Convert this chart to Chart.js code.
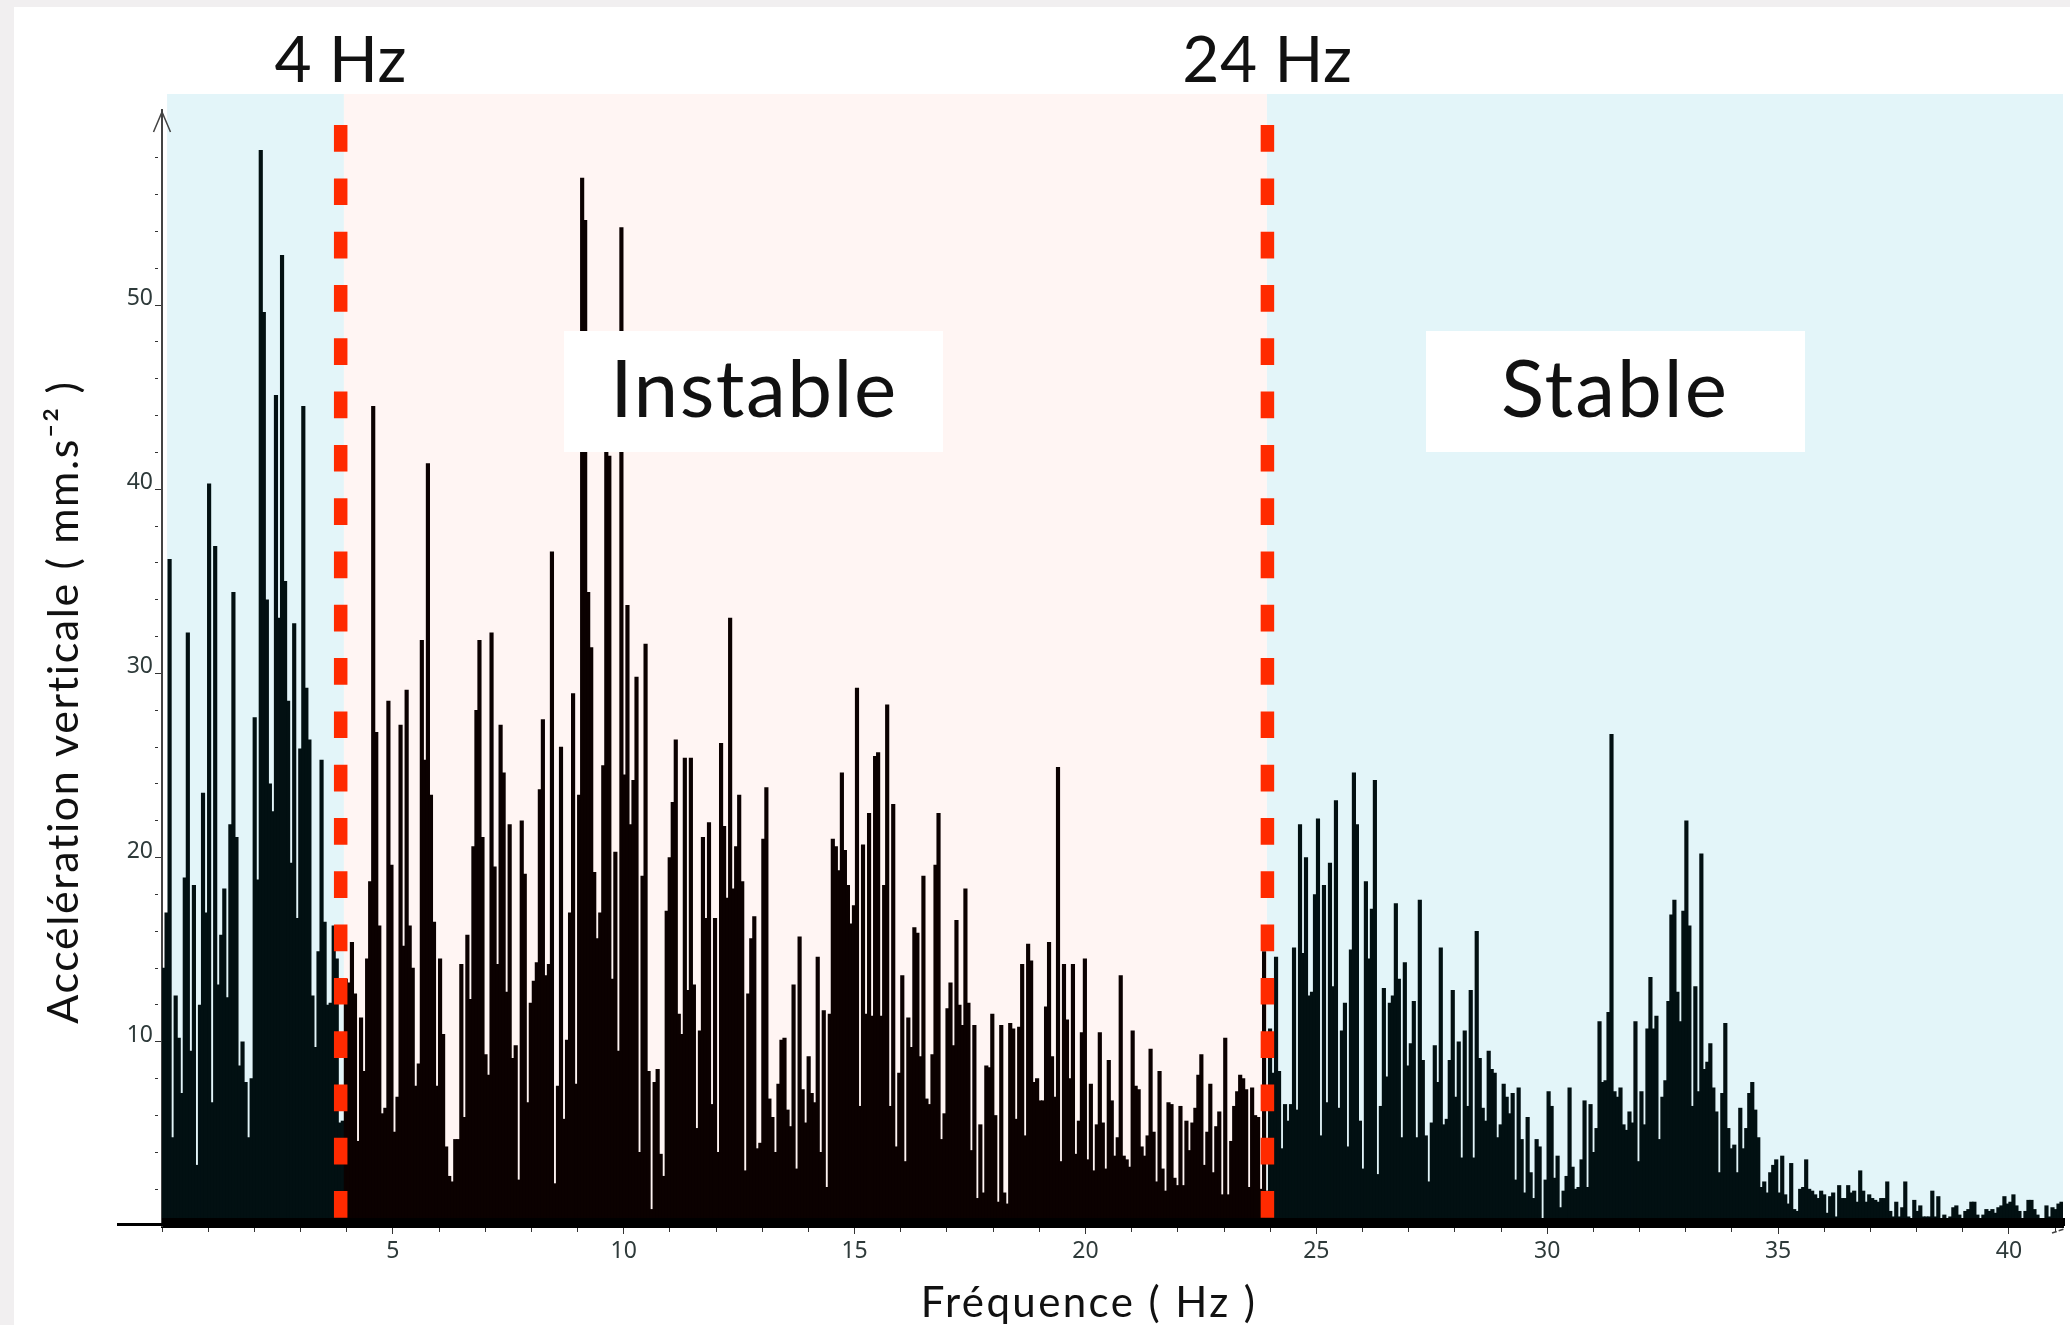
<!DOCTYPE html>
<html lang="fr">
<head>
<meta charset="utf-8">
<title>Fréquence</title>
<style>
    html, body { margin: 0; padding: 0; background: #f1eff0; }
    #sheet { position: absolute; left: 14px; top: 7px; width: 2056px; height: 1318px; background: #fff; }
    #chart { position: absolute; left: 0; top: 0; }
</style>
<script src="https://cdn.jsdelivr.net/npm/chart.js@4"></script>
</head>
<body>
<div id="sheet"></div>
<canvas id="chart" width="2070" height="1325"></canvas>
<script>
// Amplitudes, one small list per stretch of the x axis
const amp0to6 = [14, 17, 36.2, 4.8, 12.5, 10.2, 7.2, 18.9, 32.2, 9.5, 18.5, 3.3, 12, 23.5, 17, 40.3, 6.7, 36.9, 13.1, 15.8, 18.3, 12.4, 21.8, 34.4, 21.1, 8.7, 10, 7.8, 4.8, 8, 27.6, 18.8, 58.4, 49.6, 34, 24, 22.5, 45.1, 33, 52.7, 35, 28.5, 19.7, 32.7, 16.7, 25.9, 44.5, 29.2, 26.4, 12.5, 9.7, 14.9, 25.3, 16.5, 12, 12.1, 16.3, 14.5, 5.6, 5.7, 13.4, 13.2, 15.4, 12.6, 4.6, 11.3, 8.4, 14.5, 18.7, 44.5, 26.8, 16.3, 6.1, 6.4, 28.5, 19.6, 5.1, 7, 27.2, 15.2, 29.1, 16.3, 14, 7.6, 8.8, 31.8, 25.3, 41.4, 23.4, 16.5, 7.6, 14.5, 10.4, 4.3, 2.7, 2.4, 4.7, 4.7];
const amp6to17 = [14.2, 5.9, 15.8, 12.3, 20.6, 28, 31.8, 21.1, 9.3, 8.2, 32.2, 19.5, 14.2, 27.2, 24.6, 12.7, 21.8, 9.1, 9.8, 2.5, 22, 19.1, 6.7, 12.1, 13.3, 14.3, 23.7, 27.5, 13.6, 14.2, 36.6, 2.3, 7.6, 26, 5.8, 10.1, 17, 28.9, 7.7, 23.4, 56.9, 54.6, 34.4, 31.4, 19.2, 15.6, 17, 25, 44, 41.8, 13.4, 20.3, 9.5, 54.2, 24.5, 33.7, 21.8, 24.2, 29.8, 4, 19, 31.6, 8.4, 0.9, 7.8, 8.5, 3.9, 2.7, 17.1, 20, 23, 26.4, 11.5, 10.4, 25.4, 12.8, 25.4, 13.1, 5.3, 10.6, 21.1, 16.7, 21.9, 6.6, 16.7, 4, 26.2, 21.7, 17.8, 33, 18.3, 20.6, 23.4, 18.7, 3, 12.6, 15.6, 16.8, 4.2, 4.5, 21, 23.8, 6.9, 5.9, 4, 7.7, 10.1, 10.2, 6.3, 5.4, 13.1, 3.1, 15.7, 7.4, 5.6, 9.2, 7.2, 6.7, 14.6, 4, 11.7, 2.1, 11.5, 21, 20.6, 19.3, 24.6, 20.4, 18.5, 16.4, 17.4, 29.2, 6.5, 20.7, 11.5, 22.4, 11.4, 25.5, 25.7, 11.4, 18.5, 28.3, 6.5, 22.9, 4.3, 8.3, 13.6, 3.5, 11.3, 9.7, 16.2, 15.9, 9.2, 19, 6.9, 6.6, 9.3, 19.6, 22.4];
const amp17to24 = [4.7, 6.1, 11.8, 13.2, 9.8, 16.6, 12, 10.9, 18.3, 12.1, 4.1, 10.9, 1.5, 5.5, 1.8, 8.7, 8.6, 11.5, 6, 1.3, 10.9, 1.8, 1.2, 11, 10.7, 5.8, 10.8, 14.2, 4.9, 15.3, 14.4, 7.8, 8, 6.8, 6.8, 11.9, 15.4, 9.2, 7, 24.9, 3.5, 14.2, 11.2, 8, 14.2, 3.9, 5.7, 10.5, 14.5, 3.6, 7.7, 3, 5.5, 10.5, 5.6, 3.1, 9, 6.8, 3.8, 4.8, 13.6, 3.8, 3.6, 3.2, 10.6, 7.6, 7.4, 4.3, 3.8, 4.9, 9.6, 5.1, 2.4, 8.4, 3.1, 1.9, 6.7, 6.6, 2.6, 2.2, 6.5, 2.2, 5.7, 4.1, 5.6, 6.4, 8.2, 9.3, 3.3, 5.1, 7.7, 2.9, 5.4, 6.2, 1.7, 10.2, 1.7, 4.6, 6.5, 7.3, 8.2, 8, 7.4, 2.1, 7.5, 6, 5.9, 2, 14.9];
const amp24to36 = [1.9, 10.7, 8.3, 14.6, 8.4, 4.2, 6.6, 5.7, 6.6, 15.1, 6.3, 21.8, 14.8, 20, 12.5, 12.7, 18, 22.1, 4.9, 18.5, 6.7, 19.7, 13, 23.1, 6.4, 10.6, 12.1, 4.3, 15, 24.6, 21.8, 5.7, 3.1, 18.7, 14.5, 17.2, 24.2, 2.8, 6.5, 12.9, 8.1, 12.1, 12.5, 17.5, 13.4, 4.8, 14.3, 8.7, 9.9, 12.2, 4.8, 17.7, 9, 4.9, 2.4, 5.6, 9.8, 7.8, 15.1, 5.5, 5.8, 9, 12.8, 7, 10, 3.7, 10.6, 6.5, 12.8, 3.7, 16, 9.1, 6.4, 5.7, 9.5, 8.5, 8.3, 4.8, 5.5, 7.7, 7, 6.1, 7.2, 2.5, 7.5, 4.7, 1.8, 5.9, 2.9, 1.5, 4.7, 4.3, 0.4, 2.5, 7.3, 6.5, 2.6, 3.8, 1, 1.9, 2.7, 7.5, 3.2, 2, 2.1, 3.6, 6.8, 2.1, 6.6, 4, 5.3, 11.1, 7.8, 7.9, 11.6, 26.7, 7.3, 7, 7.5, 5.5, 5.2, 6.2, 5.6, 11.1, 3.5, 7.3, 5.5, 10.7, 13.5, 10.7, 11.4, 4.7, 7, 7.9, 12.2, 16.9, 17.7, 12.7, 11.1, 17.1, 22, 16.3, 6.5, 13, 7.3, 20.2, 8.5, 8.9, 9.9, 7.5, 6.2, 2.9, 7.2, 11, 5.3, 4.2, 4.4, 2.9, 6.4, 4.2, 5.3, 7.2, 7.8, 6.3, 4.8, 2.1, 2.4, 1.8, 2.9, 3.3, 3.6, 1.8, 3.8, 1.7, 1.2, 3.4, 0.9, 0.8, 2, 2.1, 3.6, 2, 1.9, 1.7, 1.5];
const amp36to41 = [1.9, 1.7, 0.7, 1.6, 1.8, 0.5, 2.2, 1.5, 1.5, 2.2, 1.8, 1.9, 1.3, 3, 1.9, 1.3, 1.7, 1.5, 1.4, 1.3, 1.5, 1.5, 2.4, 0.8, 0.5, 1.3, 0.5, 1, 2.4, 0.5, 0.3, 1.4, 0.8, 1.1, 0.5, 0.5, 0.5, 1.9, 0.5, 1.6, 0.4, 0.6, 0.3, 0.5, 1, 1.1, 0.6, 0.3, 0.8, 0.9, 1.3, 1.3, 0.6, 0.3, 0.6, 0.9, 0.8, 0.9, 0.7, 1, 1.1, 1.6, 1.2, 1.3, 1.7, 1.1, 0.8, 0.3, 0.8, 1.4, 1.4, 0.9, 0.6, 0.3, 0.3, 1.1, 0.5, 1, 0.9, 1.2, 1.3];

const stretches = [amp0to6, amp6to17, amp17to24, amp24to36, amp36to41];
const stretchEdgesHz = [0, 6.45, 16.85, 23.9, 35.9, 41.17];

const limitsHz = [3.87, 23.94];     // red dashed lines
const limitLabels = ['4 Hz', '24 Hz'];
const zoneEdgesHz = [0.11, 3.94, 23.93, 41.17];
const zoneColors = ['#e3f5f9', '#fff5f3', '#e3f5f9'];
const xTickLabels = [5, 10, 15, 20, 25, 30, 35, 40];
const yTickLabels = [10, 20, 30, 40, 50];

const xTitle = 'Fréquence ( Hz )';
const yTitle = 'Accélération verticale ( mm.s⁻² )';

// Spread each stretch's bins evenly between its two edges
function buildSpectrum() {
    const points = [];
    stretches.forEach((values, s) => {
        const start = stretchEdgesHz[s];
        const step = (stretchEdgesHz[s + 1] - start) / values.length;
        values.forEach((v, i) => points.push({ x: start + (i + 0.5) * step, y: v }));
    });
    return points;
}

function limitLine(hz) {
    return {
        type: 'line',
        data: [{ x: hz, y: 59.77 }, { x: hz, y: 0.43 }],
        borderColor: '#ff2a00',
        borderWidth: 13.5,
        borderDash: [26.7, 26.6],
        pointRadius: 0,
        order: 1
    };
}

// Colour zones behind the bars
const zonesPlugin = {
    id: 'zones',
    beforeDatasetsDraw(chart) {
        const ctx = chart.ctx;
        const x = chart.scales.x;
        ctx.save();
        zoneColors.forEach((color, i) => {
            const left = x.getPixelForValue(zoneEdgesHz[i]);
            const right = x.getPixelForValue(zoneEdgesHz[i + 1]);
            ctx.fillStyle = color;
            ctx.fillRect(left, 94, right - left, 1124);
        });
        ctx.restore();
    }
};

function drawText(ctx, text, x, y, font, spacing) {
    ctx.font = font;
    ctx.letterSpacing = spacing || '0px';
    ctx.fillText(text, x, y);
}

// Axis ends, floor band, labels and titles on top of the chart
const overlayPlugin = {
    id: 'overlay',
    afterDraw(chart) {
        const ctx = chart.ctx;
        const x = chart.scales.x;
        const area = chart.chartArea;
        ctx.save();

        // floor band under the bars, axis stub on the left
        ctx.fillStyle = '#000';
        ctx.fillRect(area.left, 1218, area.right - area.left + 2, 8);
        ctx.fillRect(117, 1223, 46, 3);

        // y axis arrow
        ctx.strokeStyle = '#444';
        ctx.lineWidth = 1.5;
        ctx.beginPath();
        ctx.moveTo(153.5, 132);
        ctx.lineTo(162, 112);
        ctx.lineTo(170.5, 132);
        ctx.stroke();

        // x axis end mark
        ctx.beginPath();
        ctx.setLineDash([5, 2]);
        ctx.moveTo(2052, 1233);
        ctx.lineTo(2064, 1229);
        ctx.stroke();
        ctx.setLineDash([]);

        // label boxes
        ctx.fillStyle = '#fff';
        ctx.fillRect(564, 331, 379, 121);
        ctx.fillRect(1426, 331, 379, 121);

        ctx.fillStyle = '#111';
        ctx.textAlign = 'center';
        ctx.textBaseline = 'alphabetic';
        const big = '400 80px Lato';
        drawText(ctx, 'Instable', 754, 417, big, '1.5px');
        drawText(ctx, 'Stable', 1615, 417, big, '2px');

        limitsHz.forEach((hz, i) => {
            drawText(ctx, limitLabels[i], x.getPixelForValue(hz), 82, '400 64px Lato', '0.5px');
        });

        drawText(ctx, xTitle, 1089, 1317, '400 42px Lato', '2.4px');

        ctx.translate(78, 702);
        ctx.rotate(-Math.PI / 2);
        drawText(ctx, yTitle, 0, 0, '400 43px Lato', '1.6px');
        ctx.restore();
    }
};

const tickFont = { family: '"Noto Sans"', size: 23, lineHeight: '13px' };

new Chart(document.getElementById('chart'), {
    type: 'bar',
    data: {
        datasets: [
            {
                type: 'bar',
                data: buildSpectrum(),
                barThickness: 3.5,
                backgroundColor: ctx => {
                    const hz = ctx.raw ? ctx.raw.x : 0;
                    return hz > zoneEdgesHz[1] && hz < zoneEdgesHz[2] ? '#0b0100' : '#021012';
                },
                order: 2
            },
            limitLine(limitsHz[0]),
            limitLine(limitsHz[1])
        ]
    },
    options: {
        responsive: false,
        animation: false,
        layout: { padding: { top: 110, right: 7 } },
        plugins: { legend: { display: false }, tooltip: { enabled: false } },
        scales: {
            x: {
                type: 'linear',
                min: 0,
                max: 41.17,
                offset: false,
                afterFit: s => { s.height = 99; },
                border: { color: '#000', width: 3 },
                grid: {
                    offset: false,
                    drawOnChartArea: false,
                    tickLength: 8,
                    tickColor: '#333',
                    tickBorderDash: c => (xTickLabels.includes(c.tick.value) ? [] : [4, 30])
                },
                ticks: {
                    stepSize: 1,
                    autoSkip: false,
                    maxRotation: 0,
                    includeBounds: false,
                    padding: 4,
                    color: '#2e3a3a',
                    font: { family: '"Noto Sans"', size: 23 },
                    callback: v => (xTickLabels.includes(v) ? String(v) : '')
                }
            },
            y: {
                min: 0,
                max: 60.59,
                afterFit: s => { s.width = 162; },
                border: { color: '#444', width: 2 },
                grid: {
                    drawOnChartArea: false,
                    tickLength: 7,
                    tickColor: c => (c.tick.value > 58 || c.tick.value === 0 ? 'rgba(0,0,0,0)' : '#333'),
                    tickBorderDash: c => (yTickLabels.includes(c.tick.value) ? [] : [3, 30])
                },
                ticks: {
                    stepSize: 2,
                    autoSkip: false,
                    includeBounds: false,
                    padding: 2,
                    color: '#2e3a3a',
                    font: tickFont,
                    // empty second line lifts the number above its tick
                    callback: v => (yTickLabels.includes(v) ? [String(v), ''] : '')
                }
            }
        }
    },
    plugins: [zonesPlugin, overlayPlugin]
});
</script>
</body>
</html>
